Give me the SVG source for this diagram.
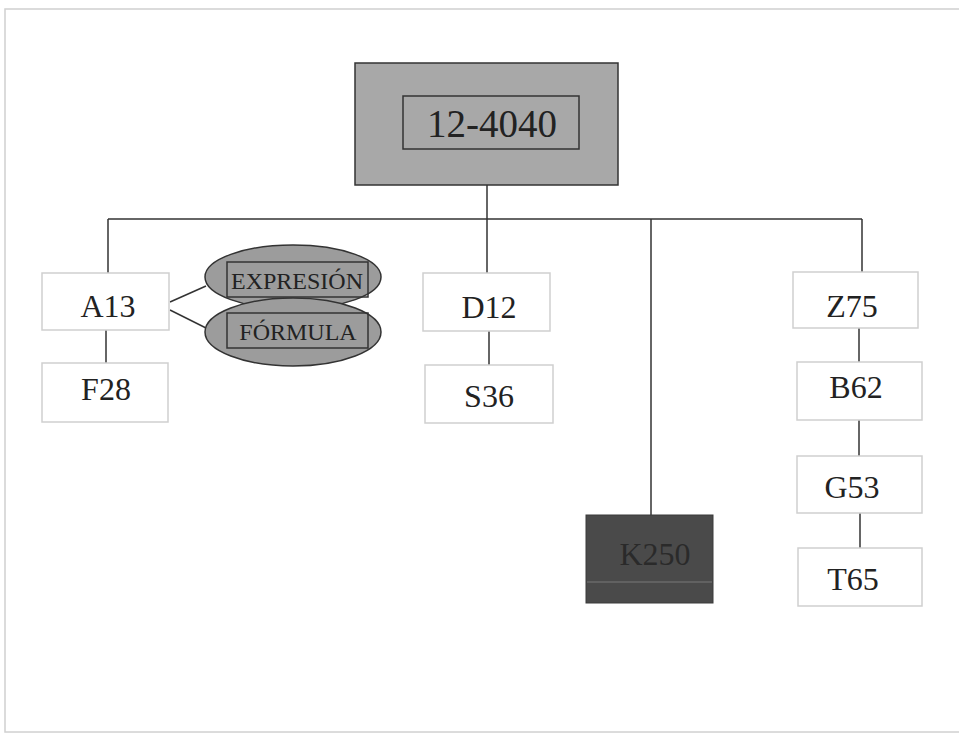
<svg xmlns="http://www.w3.org/2000/svg" width="959" height="734" viewBox="0 0 959 734">
<style>
.box{fill:#ffffff;stroke:#cfcfcf;stroke-width:1.5}
.t{font-family:"Liberation Serif","Times New Roman",serif;fill:#222;text-anchor:middle}
.n{font-size:32px}
.e{font-size:24px}
.c{stroke:#333;stroke-width:1.5;fill:none}
.oval{fill:#9c9c9c;stroke:#333;stroke-width:1.5}
.irect{fill:none;stroke:#333;stroke-width:1.5}
</style>
<rect x="0" y="0" width="959" height="734" fill="#ffffff"/>
<rect x="5" y="9" width="960" height="723" fill="none" stroke="#d0d0d0" stroke-width="1.5"/>
<g id="connectors">
<line class="c" x1="487" y1="185" x2="487" y2="219"/>
<line class="c" x1="108" y1="219" x2="862" y2="219"/>
<line class="c" x1="108" y1="219" x2="108" y2="273"/>
<line class="c" x1="487" y1="219" x2="487" y2="273"/>
<line class="c" x1="651" y1="219" x2="651" y2="515"/>
<line class="c" x1="862" y1="219" x2="862" y2="272"/>
<line class="c" x1="106" y1="330" x2="106" y2="363"/>
<line class="c" x1="170" y1="302" x2="206" y2="286"/>
<line class="c" x1="170" y1="310" x2="206" y2="328"/>
<line class="c" x1="489" y1="331" x2="489" y2="365"/>
<line class="c" x1="859" y1="328" x2="859" y2="362"/>
<line class="c" x1="859" y1="420" x2="859" y2="456"/>
<line class="c" x1="860" y1="513" x2="860" y2="548"/>
</g>
<g id="root">
<rect x="355" y="63" width="263" height="122" fill="#a8a8a8" stroke="#333" stroke-width="1.5"/>
<rect x="403" y="96" width="176" height="53" fill="none" stroke="#333" stroke-width="1.5"/>
<text class="t" x="492" y="137" font-size="39">12-4040</text>
</g>
<g id="expresion">
<ellipse class="oval" cx="293" cy="277" rx="88" ry="32"/>
<rect class="irect" x="227" y="262" width="141" height="35"/>
<text class="t e" x="297" y="289">EXPRESIÓN</text>
</g>
<g id="formula">
<ellipse class="oval" cx="293" cy="332" rx="88" ry="34"/>
<rect class="irect" x="227" y="313" width="141" height="35"/>
<text class="t e" x="298" y="340">FÓRMULA</text>
</g>
<g id="A13">
<rect class="box" x="42" y="273" width="127" height="57"/>
<text class="t n" x="108" y="317">A13</text>
</g>
<g id="F28">
<rect class="box" x="42" y="363" width="126" height="59"/>
<text class="t n" x="106" y="400">F28</text>
</g>
<g id="D12">
<rect class="box" x="423" y="273" width="127" height="58"/>
<text class="t n" x="489" y="318">D12</text>
</g>
<g id="S36">
<rect class="box" x="425" y="365" width="128" height="58"/>
<text class="t n" x="489" y="407">S36</text>
</g>
<g id="K250">
<rect x="586" y="515" width="127" height="88" fill="#4a4a4a" stroke="#3a3a3a" stroke-width="1"/>
<line x1="587" y1="582" x2="712" y2="582" stroke="#6a6a6a" stroke-width="1.5"/>
<text class="t n" x="655" y="565" style="fill:#2a2a2a">K250</text>
</g>
<g id="Z75">
<rect class="box" x="793" y="272" width="125" height="56"/>
<text class="t n" x="852" y="317">Z75</text>
</g>
<g id="B62">
<rect class="box" x="797" y="362" width="125" height="58"/>
<text class="t n" x="856" y="398">B62</text>
</g>
<g id="G53">
<rect class="box" x="797" y="456" width="125" height="57"/>
<text class="t n" x="852" y="498">G53</text>
</g>
<g id="T65">
<rect class="box" x="798" y="548" width="124" height="58"/>
<text class="t n" x="853" y="590">T65</text>
</g>
</svg>
